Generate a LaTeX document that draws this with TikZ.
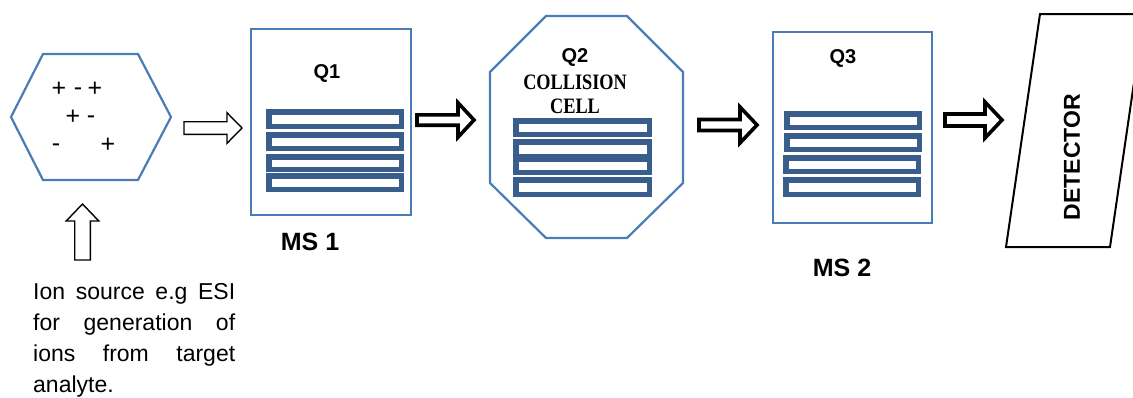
\documentclass[tikz,border=0pt]{standalone}
\usepackage{fontspec}
\usepackage{graphicx}
\setmainfont{Liberation Sans}
\newfontfamily\serifb{Liberation Serif}
\usetikzlibrary{calc}
\definecolor{boxblue}{RGB}{74,124,182}
\definecolor{rodblue}{RGB}{58,94,140}
% #1 style, #2 start, #3 tip, #4 shaft half width, #5 head half width, #6 head length
\newcommand\blockarrow[6]{%
  \coordinate (hb) at ($(#3)!#6pt!(#2)$);
  \draw[#1] ($(#2)!#4pt!90:(#3)$) -- ($(hb)!#4pt!90:(#3)$) -- ($(hb)!#5pt!90:(#3)$) -- (#3)
    -- ($(hb)!#5pt!-90:(#3)$) -- ($(hb)!#4pt!-90:(#3)$) -- ($(#2)!#4pt!-90:(#3)$) -- cycle;}
\begin{document}
\begin{tikzpicture}[x=1pt,y=-1pt,
  outline/.style={draw=boxblue,line width=2.2pt},
  rod/.style={draw=rodblue,line width=5.5pt,fill=white},
  lbl/.style={font=\bfseries\fontsize{20}{24}\selectfont,inner sep=0},
  mslbl/.style={font=\bfseries\fontsize{25}{30}\selectfont,inner sep=0},
  sign/.style={font=\fontsize{25}{28}\selectfont,inner sep=0,anchor=base},
  hollow/.style={draw=black,line width=1.4pt,fill=white,line join=miter},
  boldarrow/.style={draw=black,line width=3.6pt,fill=white,line join=miter}]
\useasboundingbox (0,0) rectangle (1133,397);
\clip (0,0) rectangle (1133,397);

% ion source hexagon
\draw[outline] (11,117) -- (43,54) -- (138,54) -- (171,117) -- (138,180) -- (43,180) -- cycle;
\node[sign] (s1) at (59,96.5) {+};
\node[sign] (s2) at (78,95) {-};
\node[sign] (s3) at (95,96.5) {+};
\node[sign] (s4) at (73,124.5) {+};
\node[sign] (s5) at (91,123) {-};
\node[sign] (s6) at (56,151) {-};
\node[sign] (s7) at (108,152.5) {+};

% MS 1
\node[outline,minimum width=160pt,minimum height=186pt,inner sep=0] (ms1) at (331,122) {};
\foreach \a/\b in {109/129,132/151,154/172,173/192}
  \draw[rod] (268.75,{\a+2.75}) rectangle (401.25,{\b-2.75});
\node[lbl] (q1) at (327,73) {Q1};
\node[mslbl] (ms1lbl) at (310,242) {MS 1};

% Q2 collision cell
\draw[outline] (546,16) -- (627,16) -- (683,72) -- (683,183) -- (627,238) -- (546,238) -- (490,183) -- (490,72) -- cycle;
\foreach \a/\b in {118/137,139/159,156/175,177/197}
  \draw[rod] (515.75,{\a+2.75}) rectangle (649.25,{\b-2.75});
\node[lbl] (q2) at (575,57) {Q2};
\node[font=\serifb\bfseries\fontsize{22}{24}\selectfont,inner sep=0,align=center] (cc) at (575,94)
  {\scalebox{0.83}[1]{COLLISION}\\\scalebox{0.83}[1]{CELL}};

% MS 2
\node[outline,minimum width=159pt,minimum height=191pt,inner sep=0] (ms2) at (852.5,127.5) {};
\foreach \a/\b/\l/\r in {111/130/784/922,133/152/784/922,155/174/783/921,177/197/783/921}
  \draw[rod] ({\l+2.75},{\a+2.75}) rectangle ({\r-2.75},{\b-2.75});
\node[lbl] (q3) at (843,58) {Q3};
\node[mslbl] (ms2lbl) at (842,268) {MS 2};

% detector
\draw[black,line width=2pt] (1006,247) -- (1040,14) -- (1144,14) -- (1110,247) -- cycle;
\node[font=\bfseries\fontsize{23}{28}\selectfont,inner sep=0,rotate=90] (det) at (1072,157) {DETECTOR};

% block arrows
\coordinate (a1s) at (184,128);   \coordinate (a1e) at (242,128);
\coordinate (a2s) at (417,120);   \coordinate (a2e) at (474,120);
\coordinate (a3s) at (699,125);   \coordinate (a3e) at (757,125);
\coordinate (a4s) at (945,120);   \coordinate (a4e) at (1002,120);
\coordinate (ups) at (82.5,260);  \coordinate (upe) at (82.5,204);
\blockarrow{hollow}{a1s}{a1e}{6.3}{15.3}{15}
\blockarrow{boldarrow}{a2s}{a2e}{5.2}{17.2}{16}
\blockarrow{boldarrow}{a3s}{a3e}{5.5}{18}{17}
\blockarrow{boldarrow}{a4s}{a4e}{6}{18}{17}
\blockarrow{hollow}{ups}{upe}{7.8}{16.3}{17}

% description
\node[anchor=north west,inner sep=0,align=left,font=\fontsize{23}{31}\selectfont] (desc) at (33,283)
  {\makebox[202pt][s]{Ion source e.g ESI}\\\makebox[202pt][s]{for generation of}\\\makebox[202pt][s]{ions from target}\\analyte.};
\end{tikzpicture}
\end{document}
